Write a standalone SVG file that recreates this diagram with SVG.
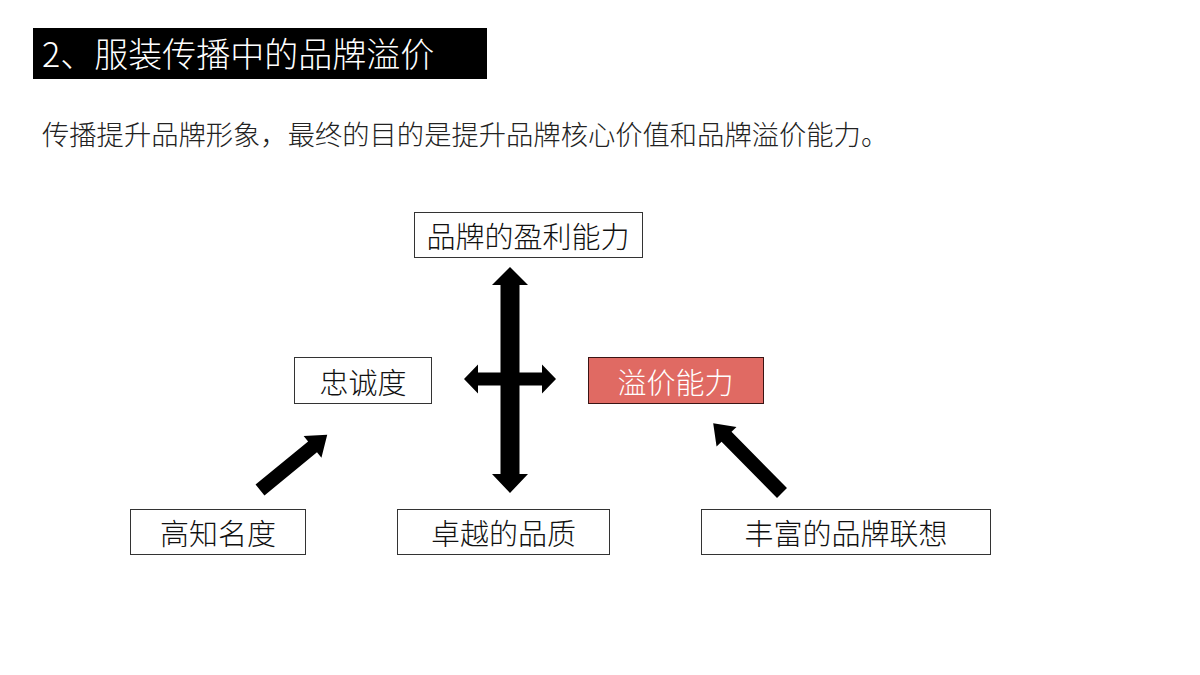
<svg xmlns="http://www.w3.org/2000/svg" width="1200" height="675" viewBox="0 0 1200 675">
<style>
  text { font-family: "Noto Sans CJK SC", "Noto Sans", sans-serif; font-weight: 300; }
  .box { fill: #ffffff; stroke: #333333; stroke-width: 1; }
  .hl { fill: #E06A63; stroke: #3a1414; stroke-width: 1; }
  .lbl { font-size: 29px; fill: #111111; text-anchor: middle; dominant-baseline: central; }
  .lblw { font-size: 29px; fill: #ffffff; text-anchor: middle; dominant-baseline: central; }
  .arrow { fill: #000000; }
</style>
<rect width="1200" height="675" fill="#ffffff"/>
<g id="title">
  <rect x="33" y="28" width="454" height="51" fill="#000000"/>
  <text x="42" y="67" font-size="34" fill="#ffffff">2、服装传播中的品牌溢价</text>
</g>
<g id="subtitle">
  <text x="42" y="145" font-size="27.3" fill="#222222">传播提升品牌形象，最终的目的是提升品牌核心价值和品牌溢价能力。</text>
</g>
<g id="node-profit">
  <rect class="box" x="414.5" y="212.5" width="228" height="45"/>
  <text class="lbl" x="528" y="235">品牌的盈利能力</text>
</g>
<g id="node-loyalty">
  <rect class="box" x="294.5" y="357.5" width="137" height="46"/>
  <text class="lbl" x="363" y="380.5">忠诚度</text>
</g>
<g id="node-premium">
  <rect class="hl" x="588.5" y="357.5" width="175" height="46"/>
  <text class="lblw" x="675.5" y="380.5">溢价能力</text>
</g>
<g id="node-awareness">
  <rect class="box" x="130.5" y="509.5" width="175" height="45"/>
  <text class="lbl" x="218" y="532">高知名度</text>
</g>
<g id="node-quality">
  <rect class="box" x="397.5" y="509.5" width="212" height="45"/>
  <text class="lbl" x="503.5" y="532">卓越的品质</text>
</g>
<g id="node-association">
  <rect class="box" x="701.5" y="509.5" width="289" height="45"/>
  <text class="lbl" x="846" y="532">丰富的品牌联想</text>
</g>
<g id="connectors">
  <path class="arrow" d="M510,267 L528,285 L519.5,285 L519.5,474 L528,474 L510,493 L492,474 L500.5,474 L500.5,285 L492,285 Z"/>
  <path class="arrow" d="M464,379 L478,364.5 L478,372.5 L542,372.5 L542,364.5 L556,379 L542,393.5 L542,385.5 L478,385.5 L478,393.5 Z"/>
  <path class="arrow" transform="translate(260,490) rotate(-39.4)" d="M0,-7 L68,-7 L68,-14 L87,0 L68,14 L68,7 L0,7 Z"/>
  <path class="arrow" transform="translate(782,493) rotate(-134.6)" d="M0,-7 L79,-7 L79,-14 L98,0 L79,14 L79,7 L0,7 Z"/>
</g>
</svg>
